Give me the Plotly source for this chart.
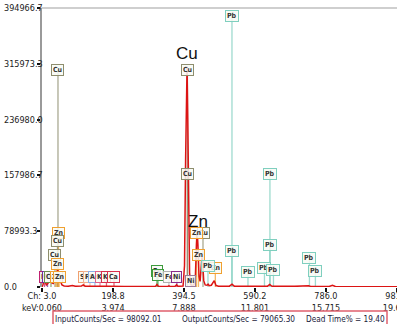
import plotly.graph_objects as go

# ---------------- data ----------------
y_tick_vals = [0.0, 78993.3, 157986.7, 236980.0, 315973.3, 394966.7]
y_tick_text = ["0.0", "78993.3", "157986.7", "236980.0", "315973.3", "394966.7"]

x_tick_ch = [3.0, 198.8, 394.5, 590.2, 786.0, 981.7]
x_tick_kev = ["0.060", "3.974", "7.888", "11.801", "15.715", "19.630"]

# spectrum vertices (channel, counts)
spec_ch = [3, 6, 9, 12, 15, 19, 24, 27, 30, 34, 38, 42, 46, 50, 54, 58, 64, 75, 87, 95,
           112, 117, 122, 140, 165, 170, 184, 190, 230, 300, 316, 320, 324, 350, 353, 356,
           370, 374, 378, 392, 396, 399, 401, 403, 405, 407, 410, 413, 416, 422, 426, 429,
           431, 433, 436, 439, 442, 444, 446, 449, 453, 458, 461, 464, 470, 478, 483, 490,
           520, 527, 533, 600, 625, 631, 637, 700, 738, 744, 795, 804, 812, 900, 982]
spec_counts = [0, 4000, 11000, 6000, 3000, 5000, 9000, 14000, 6000, 5000, 9000, 16000, 24000,
               19000, 8000, 3000, 1500, 1000, 2000, 1000, 1500, 3000, 1200, 900, 1200, 1400,
               1800, 900, 700, 700, 900, 3500, 900, 800, 1500, 800, 900, 3000, 900, 1500,
               30000, 180000, 300000, 312000, 240000, 120000, 20000, 4000, 2500, 3000, 15000,
               60000, 78000, 60000, 15000, 8000, 25000, 42000, 35000, 9000, 3000, 2500, 4000,
               2000, 2500, 9000, 2000, 1200, 1200, 4000, 1200, 1000, 1200, 3500, 1100, 900,
               1800, 800, 700, 2500, 700, 500, 400]

# element marker lines: label, channel, height (counts)
mark_label = ["Cu", "Cu", "Cu", "Cu", "Zn", "Zn", "Zn", "Pb", "Pb", "Pb", "Pb", "Pb", "Pb",
              "Pb", "Pb", "Pb", "Pb", "Zn", "Cu", "Cu", "Zn", "Ni", "Fe", "Cu", "Zn", "Zn",
              "Si", "Pb", "Ar", "K", "K", "Ca", "Fe", "Fe", "Fe", "Ni", "Ni"]
mark_ch = [47.1, 404, 404, 447, 429, 434.5, 481, 460.7, 526.9, 526.9, 571, 631.6, 631.6,
           616.5, 641.3, 740.5, 757, 48.5, 45.7, 38.8, 44.4, 9.9, 18.2, 27.8, 41.6, 50,
           118.8, 135.3, 149, 163, 180.8, 201.5, 320, 322.8, 353, 375, 413.8]
mark_counts = [307200, 307200, 160000, 76400, 76400, 45300, 26900, 29700, 383600, 51000,
               21200, 160000, 59500, 26900, 24100, 41000, 22600, 76400, 65100, 45300, 32600,
               14200, 14200, 14200, 14200, 14200, 14200, 14200, 14200, 14200, 14200, 14200,
               22600, 17000, 14200, 14200, 8500]
mark_color = ["#8e8e6e", "#8e8e6e", "#8e8e6e", "#8e8e6e", "#f0a030", "#f0a030", "#f0a030",
              "#7fcfbf", "#7fcfbf", "#7fcfbf", "#7fcfbf", "#7fcfbf", "#7fcfbf", "#7fcfbf",
              "#7fcfbf", "#7fcfbf", "#7fcfbf", "#f0a030", "#8e8e6e", "#8e8e6e", "#f0a030",
              "#c02070", "#7030a0", "#6e8e4e", "#f0a030", "#f0a030", "#f0a070", "#f0b090",
              "#8aaee6", "#e0608a", "#d8304e", "#d8304e", "#3c9a3c", "#3c9a3c", "#b0b0b0",
              "#8a2a8a", "#9a7a9a"]

big_labels = ["Cu", "Zn"]
big_label_ch = [402, 432]
big_label_counts = [330000, 93000]

rate_texts = ["InputCounts/Sec = 98092.01", "OutputCounts/Sec = 79065.30", "Dead Time% = 19.40"]

# ---------------- figure ----------------
FONT = "DejaVu Sans Condensed"
fig = go.Figure()

# marker lines (drawn under the spectrum)
for lbl, ch, h, col in zip(mark_label, mark_ch, mark_counts, mark_color):
    fig.add_trace(go.Scatter(x=[ch, ch], y=[0, h], mode="lines",
                             line=dict(color=col, width=1.3), opacity=0.75,
                             hoverinfo="skip", showlegend=False))

fig.add_trace(go.Scatter(x=spec_ch, y=spec_counts, mode="lines",
                         line=dict(color="#dc1414", width=1.5),
                         showlegend=False))

annotations = []
for lbl, ch, h, col in zip(mark_label, mark_ch, mark_counts, mark_color):
    annotations.append(dict(x=ch, y=h, xref="x", yref="y", text="<b>%s</b>" % lbl,
                            showarrow=False, font=dict(family=FONT, size=7, color="#333"),
                            bordercolor=col, borderwidth=1, borderpad=1,
                            bgcolor="rgba(248,250,244,0.85)",
                            xanchor="center", yanchor="middle"))
for lbl, ch, h in zip(big_labels, big_label_ch, big_label_counts):
    annotations.append(dict(x=ch, y=h, xref="x", yref="y", text=lbl, showarrow=False,
                            font=dict(family="Liberation Sans", size=17, color="#111"),
                            xanchor="center", yanchor="middle"))
# y tick labels, left aligned like the instrument software
for v, t in zip(y_tick_vals, y_tick_text):
    annotations.append(dict(x=-40 / 355, y=v, xref="paper", yref="y", text=t,
                            showarrow=False, xanchor="left", yanchor="middle",
                            font=dict(family=FONT, size=9, color="#222")))
# rate line
rate_x = [0.186, 0.5535, 0.856]
for t, px in zip(rate_texts, rate_x):
    annotations.append(dict(x=px, y=-32 / 279, xref="paper", yref="paper", text=t,
                            showarrow=False, xanchor="center", yanchor="middle",
                            font=dict(family=FONT, size=8.2, color="#1a1a3a")))

xt_text = ["Ch: %s<br>keV:%s" % (x_tick_ch[0], x_tick_kev[0])] + \
          ["%s<br>%s" % (c, k) for c, k in zip(x_tick_ch[1:], x_tick_kev[1:])]

fig.update_layout(
    width=397, height=324,
    margin=dict(l=42, r=0, t=8, b=37),
    paper_bgcolor="white", plot_bgcolor="white",
    showlegend=False,
    annotations=annotations,
    shapes=[
        dict(type="line", xref="paper", yref="paper", x0=0, x1=1, y0=1, y1=1,
             line=dict(color="#cfcfcf", width=2)),
        dict(type="rect", xref="paper", yref="paper", x0=11 / 355, x1=345 / 355,
             y0=-40 / 279, y1=-24 / 279, line=dict(color="#e0606e", width=1.5)),
    ],
    xaxis=dict(range=[3, 982], showgrid=False, zeroline=False, showline=False,
               automargin=False,
               ticks="outside", ticklen=4, tickwidth=2, tickcolor="#111",
               tickvals=x_tick_ch, ticktext=xt_text, ticklabelstandoff=-4,
               ticklabeloverflow="allow",
               tickfont=dict(family=FONT, size=9, color="#222")),
    yaxis=dict(range=[0, 394966.7], showgrid=False, zeroline=False, showline=True,
               automargin=False,
               linecolor="#9a9a9a", linewidth=2, ticks="outside", ticklen=3,
               tickwidth=2, tickcolor="#111", tickvals=y_tick_vals,
               showticklabels=False),
)

fig.write_html("out.html", config={"displayModeBar": False},
               post_script="document.body.style.margin='0';document.body.style.overflow='hidden';")
